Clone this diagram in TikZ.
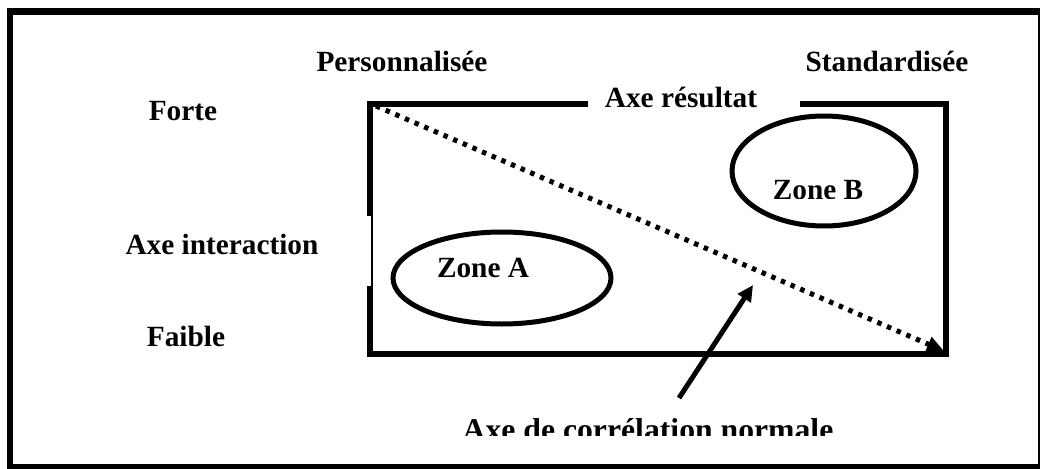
\documentclass[tikz,border=0pt]{standalone}
\usepackage{fontspec}
\setmainfont{Liberation Serif}
\usetikzlibrary{arrows.meta}
\begin{document}
\begin{tikzpicture}[x=1pt,y=-1pt,
  lbl/.style={font=\fontsize{29.3}{32}\selectfont\bfseries, inner sep=0pt, anchor=base},
  biglbl/.style={font=\fontsize{31.7}{34}\selectfont\bfseries, inner sep=0pt, anchor=base},
  thick6/.style={line width=6pt},
]
\useasboundingbox (0,0) rectangle (1040,468);
% outer frame
\draw[line width=6.5pt] (10,11.5) rectangle (1041,467);
% inner rectangle
\coordinate (tl) at (370,104);
\coordinate (tr) at (946,104);
\coordinate (br) at (946,354);
\coordinate (bl) at (370,354);
\draw[thick6] (588,104) -- (tl) -- (370,216);
\draw[thick6] (800,104) -- (tr) -- (br) -- (bl) -- (370,286);
\draw[line width=2pt] (371.5,214) -- (371.5,288);
% labels
\node[lbl] (pers) at (402,71.5) {Personnalisée};
\node[lbl] (std) at (887,71.5) {Standardisée};
\node[lbl] (forte) at (183,121) {Forte};
\node[lbl] (axr) at (681,107.5) {Axe résultat};
\node[lbl] (axi) at (222,254) {Axe interaction};
\node[lbl] (faible) at (186,346) {Faible};
% zones
\draw[line width=5pt] (502,278) ellipse [x radius=109, y radius=46];
\draw[line width=5pt] (824,171) ellipse [x radius=92, y radius=55];
\node[lbl] (za) at (483,277) {Zone A};
\begin{scope}
\clip (700,150) rectangle (900,198);
\node[lbl] (zb) at (818,199) {Zone B};
\end{scope}
% diagonal dotted
\coordinate (d0) at (376,106);
\coordinate (d1) at (944,351);
\draw[line width=5pt, dash pattern=on 4.5pt off 6pt, -{Triangle[length=17pt,width=15pt]}] (d0) -- (d1);
% arrow
\coordinate (a0) at (679,398);
\coordinate (a1) at (753,285);
\draw[line width=5pt, -{Triangle[length=16pt,width=15pt]}] (a0) -- (a1);
\begin{scope}
\clip (400,380) rectangle (900,435);
\node[biglbl] (acn) at (648,440) {Axe de corrélation normale};
\end{scope}
\end{tikzpicture}
\end{document}
